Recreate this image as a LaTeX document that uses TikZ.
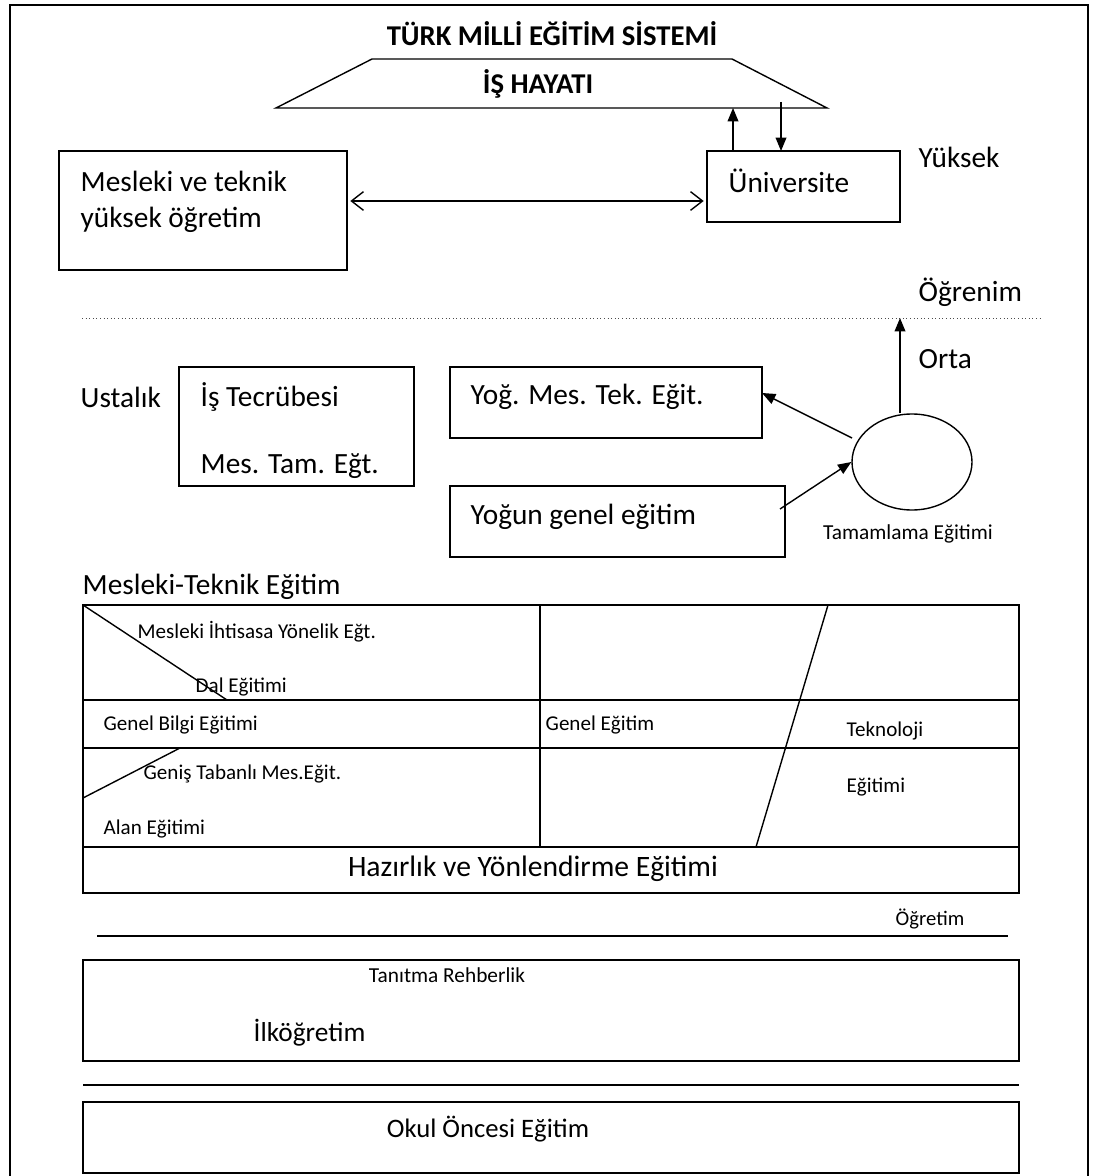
\documentclass[tikz,border=0pt]{standalone}
\usepackage{fontspec}
\setmainfont{Carlito}
\usetikzlibrary{arrows.meta,shapes.geometric}
\begin{document}
\begin{tikzpicture}[x=0.75pt,y=-0.75pt,
  line width=1.05pt,
  big/.style={font=\fontsize{22}{26}\selectfont},
  small/.style={font=\fontsize{15.8}{18}\selectfont},
  head/.style={font=\fontsize{21.5}{25}\selectfont\bfseries},
  txt/.style={anchor=west,inner sep=0},
  fill tip/.style={-{Triangle[length=10pt,width=8pt]}},
  open tips/.style={{Straight Barb[length=9pt,width=14pt]}-{Straight Barb[length=9pt,width=14pt]}}
]
\useasboundingbox (0,0) rectangle (1098,1176);
\fill[white] (0,0) rectangle (1098,1176);
% outer frame
\draw (10,1180) -- (10,5) -- (1088,5) -- (1088,1180);

% title
\node[head] (title) at (552,34) {TÜRK MİLLİ EĞİTİM SİSTEMİ};
% trapezoid
\draw (372,59) -- (732,59) -- (827,108) -- (276,108) -- cycle;
\node[head] (is) at (538,84) {İŞ HAYATI};
\coordinate (isb1) at (733,108);
\coordinate (isb2) at (781,102);

% upper boxes
\draw (59,151) rectangle (347,270);
\node[txt,big] (myo1) at (80,181) {Mesleki ve teknik};
\node[txt,big] (myo2) at (80,220) {yüksek öğretim};
\draw (707,151) rectangle (900,222);
\coordinate (uniW) at (707,201);
\coordinate (myoE) at (347,201);
\coordinate (uniT1) at (733,151);
\coordinate (uniT2) at (781,151);
\node[txt,big] (uni) at (728,181) {Üniversite};
\draw[open tips] ([xshift=2.5pt]myoE) -- ([xshift=-2.5pt]uniW);
\draw[fill tip] (uniT1) -- (isb1);
\draw[fill tip] (isb2) -- (uniT2);

\node[txt,big] (yuksek) at (918,157) {Yüksek};
\node[txt,big] (ogrenim) at (918,292) {Öğrenim};
\coordinate (dotL) at (82,318);
\coordinate (dotR) at (1040,318);
\coordinate (dotA) at (900,318);
\draw[dotted,line width=0.7pt,black!70] (dotL) -- (dotR);

% middle
\node[txt,big] (orta) at (918,359) {Orta};
\node[txt,big] (ustalik) at (80,397) {Ustalık};
\draw (179,367) rectangle (414,486);
\node[txt,big] (ist) at (200,397) {İş Tecrübesi};
\node[txt,big] (mta) at (200,466) {Mes. Tam. Eğt.};
\draw (450,367) rectangle (762,438);
\node[txt,big] (yog) at (470,397) {Yoğ. Mes. Tek. Eğit.};
\draw (450,486) rectangle (785,557);
\node[txt,big] (yge) at (470,517) {Yoğun genel eğitim};
\node[draw,ellipse,minimum width=120*0.75pt,minimum height=96*0.75pt,inner sep=0] (tam) at (912,462) {};
\node[font=\fontsize{16}{18}\selectfont] (tamt) at (908,534) {Tamamlama Eğitimi};
\coordinate (yogE) at (762,393);
\coordinate (ygeE) at (780,509);
\coordinate (tamS) at (852,438);
\draw[fill tip] (tamS) -- (yogE);
\draw[fill tip] (ygeE) -- (tam.west);
\draw[fill tip] (dotA |- tam.north) -- (dotA);

% table
\node[txt,big] (mte) at (82,587) {Mesleki-Teknik Eğitim};
\draw (83,605) rectangle (1019,893);
\draw (540,605) -- (540,847);
\draw (83,700) -- (1019,700);
\draw (83,748) -- (1019,748);
\draw (83,847) -- (1019,847);
\draw (828,605) -- (756,847);
\draw (83,605) -- (227,700);
\draw (83,798) -- (180,748);
\node[txt,small] (mih) at (137,632) {Mesleki İhtisasa Yönelik Eğt.};
\node[txt,small] (dal) at (195,687) {Dal Eğitimi};
\node[txt,small] (gbe) at (103,725) {Genel Bilgi Eğitimi};
\node[txt,small] (gtm) at (143,774) {Geniş Tabanlı Mes.Eğit.};
\node[txt,small] (alan) at (103,829) {Alan Eğitimi};
\node[txt,small] (ge) at (545,725) {Genel Eğitim};
\node[txt,small] (tek) at (846,731) {Teknoloji};
\node[txt,small] (tege) at (846,787) {Eğitimi};
\node[font=\fontsize{22.2}{26}\selectfont] (hazir) at (533,869) {Hazırlık ve Yönlendirme Eğitimi};

% lower
\node[font=\fontsize{15.5}{18}\selectfont] (ogretim) at (930,919) {Öğretim};
\draw (97,936) -- (1008,936);
\draw (83,960) rectangle (1019,1061);
\node[font=\fontsize{16}{18}\selectfont] (tanit) at (447,975) {Tanıtma Rehberlik};
\node[txt,font=\fontsize{20.5}{24}\selectfont] (ilk) at (253,1033) {İlköğretim};
\draw (83,1085) -- (1019,1085);
\draw (83,1102) rectangle (1019,1173);
\node[font=\fontsize{20}{24}\selectfont] (okul) at (488,1129) {Okul Öncesi Eğitim};
\end{tikzpicture}
\end{document}
